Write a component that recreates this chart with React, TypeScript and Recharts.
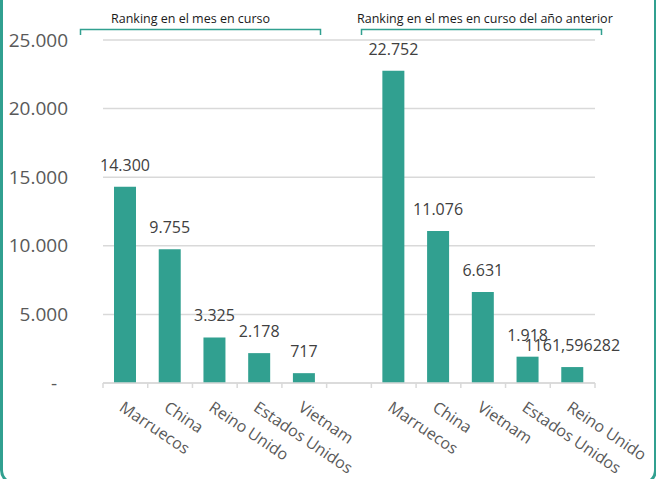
import React from 'react';
import { BarChart, Bar, XAxis, YAxis, CartesianGrid, LabelList } from 'recharts';

const categories = [
  'Marruecos', 'China', 'Reino Unido', 'Estados Unidos', 'Vietnam', '',
  'Marruecos', 'China', 'Vietnam', 'Estados Unidos', 'Reino Unido',
];
const values: (number | null)[] = [
  14300, 9755, 3325, 2178, 717, null,
  22752, 11076, 6631, 1918, 1161.596282,
];
const yTicks = [0, 5000, 10000, 15000, 20000, 25000];
const groupTitles = ['Ranking en el mes en curso', 'Ranking en el mes en curso del año anterior'];

const data = categories.map((name, i) => ({ name, value: values[i] }));

const W = 656;
const H = 479;
const M_TOP = 40;
const M_RIGHT = 61;
const Y_W = 103;
const X_H = 96;
const AXIS_Y = H - X_H;
const PLOT_W = W - M_RIGHT - Y_W;
const BAND = PLOT_W / categories.length;

const TEAL = '#31A090';
const GRID = '#D9D9D9';
const FONT = '"Open Sans", "Noto Sans", sans-serif';

const fmt = (v: number) =>
  Number.isInteger(v)
    ? String(v).replace(/\B(?=(\d{3})+(?!\d))/g, '.')
    : String(v).replace('.', ',');

const XTick = (props: any) => {
  const { x, payload, index } = props;
  return (
    <g>
      <line x1={x - BAND / 2} x2={x - BAND / 2} y1={AXIS_Y} y2={AXIS_Y + 5} stroke={GRID} strokeWidth={1.5} />
      {index === categories.length - 1 && (
        <line x1={x + BAND / 2} x2={x + BAND / 2} y1={AXIS_Y} y2={AXIS_Y + 5} stroke={GRID} strokeWidth={1.5} />
      )}
      <text
        transform={`translate(${x - 7},${AXIS_Y + 27}) rotate(34)`}
        fill="#595959"
        fontSize={16}
        fontFamily={FONT}
        textAnchor="start"
      >
        {payload.value}
      </text>
    </g>
  );
};

const YTick = (props: any) => {
  const { y, payload } = props;
  if (payload.value === 0) {
    return (
      <text x={57} y={y} dy="0.35em" textAnchor="end" fill="#595959" fontSize={19} fontFamily={FONT}>
        -
      </text>
    );
  }
  return (
    <text x={68} y={y} dy="0.35em" textAnchor="end" fill="#595959" fontSize={19} fontFamily={FONT}>
      {fmt(payload.value)}
    </text>
  );
};

const BarLabel = (p: any) => {
  if (p.value == null) return null;
  return (
    <text
      x={p.x + p.width / 2}
      y={p.y - 16}
      textAnchor="middle"
      fill="#404040"
      fontSize={16}
      fontFamily={FONT}
    >
      {fmt(p.value)}
    </text>
  );
};

export default function App() {
  return (
    <div
      style={{
        position: 'absolute',
        left: 0,
        top: 0,
        width: W,
        height: H,
        overflow: 'hidden',
        background: '#fff',
      }}
    >
      <div
        style={{
          position: 'absolute',
          left: 0,
          top: -30,
          width: 657,
          height: 515,
          border: `3px solid ${TEAL}`,
          borderRadius: 15,
          boxSizing: 'border-box',
        }}
      />
      <svg width={W} height={45} style={{ position: 'absolute', left: 0, top: 0 }}>
        <text x={111} y={22.5} fontSize={12.5} fontFamily={FONT} fill="#1a1a1a">
          {groupTitles[0]}
        </text>
        <text x={357} y={22.5} fontSize={12.5} fontFamily={FONT} fill="#1a1a1a">
          {groupTitles[1]}
        </text>
        <path d="M80.5,35 V29.5 H320.5 V35" fill="none" stroke={TEAL} strokeWidth={1.5} />
        <path d="M361.5,35 V29.5 H601.5 V35" fill="none" stroke={TEAL} strokeWidth={1.5} />
      </svg>
      <div style={{ position: 'absolute', left: 0, top: 0 }}>
        <BarChart
          width={W}
          height={H}
          data={data}
          margin={{ top: M_TOP, right: M_RIGHT, left: 0, bottom: 0 }}
        >
          <CartesianGrid vertical={false} stroke={GRID} strokeWidth={1.5} />
          <XAxis
            dataKey="name"
            interval={0}
            height={X_H}
            tickLine={false}
            axisLine={{ stroke: GRID, strokeWidth: 1.5 }}
            tick={<XTick />}
          />
          <YAxis
            width={Y_W}
            domain={[0, 25000]}
            ticks={yTicks}
            axisLine={false}
            tickLine={false}
            tick={<YTick />}
          />
          <Bar dataKey="value" fill={TEAL} barSize={22} isAnimationActive={false}>
            <LabelList dataKey="value" content={<BarLabel />} />
          </Bar>
        </BarChart>
      </div>
    </div>
  );
}
